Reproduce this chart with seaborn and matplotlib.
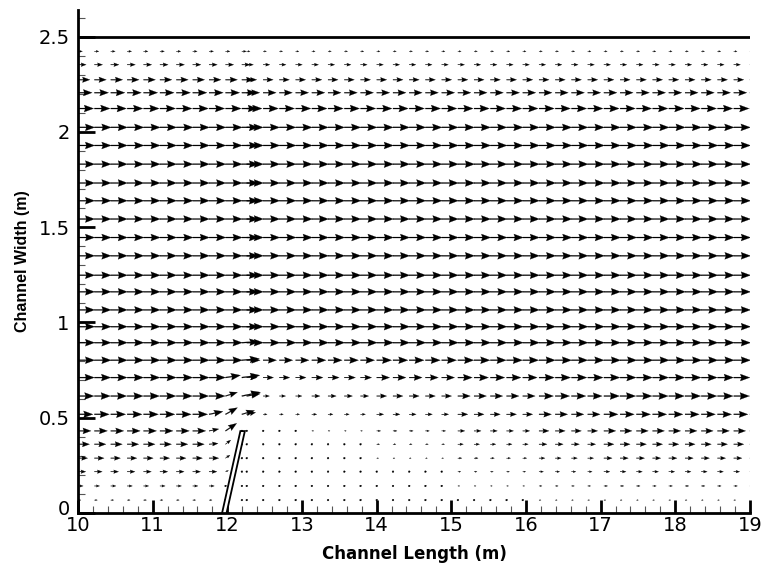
import numpy as np
import pandas as pd
import matplotlib
matplotlib.use("Agg")
import matplotlib.pyplot as plt
import matplotlib.transforms as mtransforms
import seaborn as sns
from matplotlib.ticker import MultipleLocator, FixedLocator

# ---------------- data ----------------
# mesh columns (channel length, m)
x_columns = [10.000, 10.220, 10.439, 10.659, 10.878, 11.098, 11.317, 11.537, 11.756,
             11.976, 12.195, 12.260, 12.480, 12.697, 12.915, 13.132, 13.349, 13.567,
             13.784, 14.001, 14.219, 14.436, 14.653, 14.871, 15.088, 15.305, 15.523,
             15.740, 15.957, 16.175, 16.392, 16.609, 16.827, 17.044, 17.261, 17.479,
             17.696, 17.913, 18.131, 18.348, 18.565, 18.783, 19.000]
# mesh rows (channel width, m)
y_rows = [0.068, 0.142, 0.217, 0.288, 0.361, 0.431, 0.518, 0.614, 0.711, 0.802,
          0.894, 0.978, 1.066, 1.161, 1.248, 1.350, 1.446, 1.543, 1.639, 1.732,
          1.831, 1.929, 2.024, 2.123, 2.206, 2.274, 2.353, 2.423]
# streamwise velocity profile upstream of the groyne (per row)
u_upstream = [0.040, 0.070, 0.105, 0.130, 0.155, 0.175, 0.200, 0.215, 0.220, 0.225,
              0.225, 0.225, 0.225, 0.225, 0.225, 0.225, 0.225, 0.225, 0.225, 0.225,
              0.225, 0.225, 0.225, 0.210, 0.190, 0.160, 0.110, 0.060]
# streamwise velocity profile downstream (recovered flow, per row)
u_downstream = [0.027, 0.050, 0.080, 0.110, 0.135, 0.160, 0.190, 0.210, 0.215, 0.225,
                0.225, 0.225, 0.225, 0.225, 0.225, 0.225, 0.225, 0.225, 0.225, 0.225,
                0.225, 0.225, 0.222, 0.205, 0.175, 0.135, 0.090, 0.045]
# wake behind the groyne: stations (start x) and values for the 10 lowest rows
wake_station_x = [12.0, 13.0, 14.0, 15.0, 16.0]
wake_end_x = 17.0
wake_u_12 = [0.013, 0.013, 0.013, 0.013, 0.013, 0.020, 0.054, 0.085, 0.140, 0.180]
wake_u_13 = [0.013, 0.013, 0.013, 0.013, 0.020, 0.027, 0.067, 0.110, 0.150, 0.190]
wake_u_14 = [0.013, 0.013, 0.020, 0.027, 0.040, 0.054, 0.094, 0.134, 0.174, 0.200]
wake_u_15 = [0.020, 0.027, 0.040, 0.054, 0.074, 0.094, 0.134, 0.167, 0.194, 0.214]
wake_u_16 = [0.027, 0.040, 0.060, 0.080, 0.107, 0.134, 0.167, 0.194, 0.207, 0.220]
# deflected vectors around the groyne tip: (x, y, u, v)
special_x = [11.756, 11.756, 11.756, 11.976, 11.976, 11.976, 11.976, 11.976, 11.976,
             11.976, 11.976, 11.976, 12.195, 12.195, 12.195, 12.195, 12.195, 12.195, 12.260, 12.260]
special_y = [0.361, 0.431, 0.518, 0.068, 0.142, 0.217, 0.288, 0.361, 0.431,
             0.518, 0.614, 0.711, 0.431, 0.518, 0.614, 0.711, 0.802, 0.894, 0.518, 0.614]
special_u = [0.120, 0.130, 0.185, 0.000, 0.020, 0.040, 0.060, 0.070, 0.150,
             0.160, 0.160, 0.200, 0.000, 0.170, 0.250, 0.240, 0.235, 0.230, 0.120, 0.180]
special_v = [0.004, 0.010, 0.015, 0.000, 0.000, 0.006, 0.016, 0.022, 0.040,
             0.035, 0.020, 0.012, 0.000, 0.020, 0.020, 0.012, 0.008, 0.005, 0.010, 0.012]
# groyne outline and channel wall
groyne_x = [11.930, 11.990, 12.235, 12.175]
groyne_y = [0.000, 0.000, 0.430, 0.430]
wall_x = [10.0, 19.0]
wall_y = [2.5, 2.5]
x_ticks = [10, 11, 12, 13, 14, 15, 16, 17, 18, 19]
x_ticklabels = ["10", "11", "12", "13", "14", "15", "16", "17", "18", "19"]
y_ticks = [0, 0.5, 1, 1.5, 2, 2.5]
y_ticklabels = ["0", "0.5", "1", "1.5", "2", "2.5"]

# ---------------- build the vector table ----------------
wake_table = [wake_u_12, wake_u_13, wake_u_14, wake_u_15, wake_u_16]
n_wake = len(wake_u_12)


def groyne_center(y):
    return 0.5 * (groyne_x[0] + groyne_x[1]) + y / groyne_y[2] * (
        0.5 * (groyne_x[2] + groyne_x[3]) - 0.5 * (groyne_x[0] + groyne_x[1]))


recs = []
for i, y in enumerate(y_rows):
    for x in x_columns:
        behind = (y <= groyne_y[2] + 0.01) and (x > groyne_center(y))
        if x < 12.25 and not behind:
            u = u_upstream[i]
        elif i >= n_wake or x >= wake_end_x:
            u = u_downstream[i]
        else:
            k = max(j for j, s in enumerate(wake_station_x) if s <= x)
            u = wake_table[k][i]
        v = 0.0
        for sx, sy, su, sv in zip(special_x, special_y, special_u, special_v):
            if abs(sx - x) < 1e-3 and abs(sy - y) < 1e-3:
                u, v = su, sv
        recs.append((x, y, u, v))
df = pd.DataFrame(recs, columns=["x", "y", "u", "v"])

# ---------------- plot ----------------
sns.set_style("ticks")
plt.rcParams["font.family"] = ["DejaVu Sans"]
plt.rcParams["text.color"] = "black"
plt.rcParams["axes.labelcolor"] = "black"
plt.rcParams["xtick.color"] = "black"
plt.rcParams["ytick.color"] = "black"

fig = plt.figure(figsize=(7.63, 5.72), dpi=100)
ax = fig.add_axes([0.1022, 0.1031, 0.8807, 0.8794])

ax.quiver(df["x"], df["y"], df["u"], df["v"], angles="xy", scale_units="xy", scale=1,
          units="dots", width=1.0, headwidth=7.0, headlength=9.5, headaxislength=8.5,
          minshaft=1.6, minlength=2, pivot="tail", color="black",
          linewidths=0.15, edgecolors="black", zorder=2)

wall_df = pd.DataFrame({"x": wall_x, "y": wall_y})
sns.lineplot(data=wall_df, x="x", y="y", color="black", linewidth=2.0, ax=ax, zorder=4)

ax.fill(groyne_x, groyne_y, facecolor="white", edgecolor="black", linewidth=1.3, zorder=5)

ax.set_xlim(10, 19)
ax.set_ylim(0, 2.64)

ax.xaxis.set_major_locator(FixedLocator(x_ticks))
ax.set_xticklabels(x_ticklabels)
ax.yaxis.set_major_locator(FixedLocator(y_ticks))
ax.set_yticklabels(y_ticklabels)
ax.xaxis.set_minor_locator(MultipleLocator(0.2))
ax.yaxis.set_minor_locator(MultipleLocator(0.1))

for s in ["top", "right"]:
    ax.spines[s].set_visible(False)
for s in ["left", "bottom"]:
    ax.spines[s].set_linewidth(2.0)
    ax.spines[s].set_color("black")

ax.tick_params(which="both", direction="in", top=False, right=False,
               colors="black", labelcolor="black")
ax.tick_params(axis="x", which="major", length=9.5, width=2.0, pad=2, labelsize=14)
ax.tick_params(axis="y", which="major", length=12.5, width=2.0, pad=6, labelsize=14)
ax.tick_params(which="minor", length=5.0, width=0.8, color="#555555")

# lift the "0" on the y axis a little so it clears the "10" below it
zero_lbl = ax.get_yticklabels()[0]
zero_lbl.set_transform(zero_lbl.get_transform() +
                       mtransforms.ScaledTranslation(0, 4 / 72, fig.dpi_scale_trans))

ax.set_xlabel("Channel Length (m)", fontsize=12, fontweight="bold", labelpad=7,
              color="black")
ax.set_ylabel("Channel Width (m)", fontsize=11.5, fontweight="bold", labelpad=6,
              color="black", family=["Liberation Sans", "DejaVu Sans"])
ax.grid(False)
ax.set_facecolor("white")

fig.savefig("out.png", dpi=100)
